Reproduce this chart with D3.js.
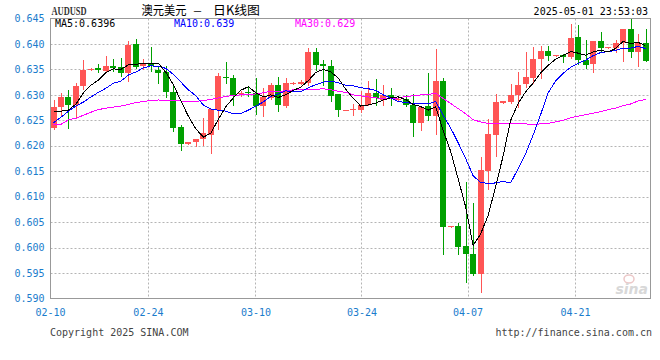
<!DOCTYPE html>
<html>
<head>
<meta charset="utf-8">
<script src="https://cdn.jsdelivr.net/npm/d3@7"></script>
<style>
    body { margin: 0; background: #fff; }
    svg { display: block; }
</style>
</head>
<body>
<svg id="kline" width="660" height="360"></svg>
<script>
// daily candles, 80 sessions
const openPrices = [
    0.6234, 0.6276, 0.6295, 0.6280, 0.6317, 0.6350, 0.6352, 0.6346, 0.6357, 0.6354,
    0.6342, 0.6400, 0.6356, 0.6362, 0.6349, 0.6345, 0.6306, 0.6236, 0.6203, 0.6207,
    0.6213, 0.6222, 0.6270, 0.6336, 0.6334, 0.6301, 0.6306, 0.6304, 0.6278, 0.6294,
    0.6320, 0.6278, 0.6323, 0.6322, 0.6323, 0.6385, 0.6361, 0.6357, 0.6302, 0.6270,
    0.6270, 0.6271, 0.6281, 0.6304, 0.6289, 0.6300, 0.6290, 0.6291, 0.6280, 0.6244,
    0.6278, 0.6259, 0.6328, 0.6041, 0.6043, 0.6004, 0.5988, 0.5948, 0.6151, 0.6221,
    0.6285, 0.6286, 0.6299, 0.6322, 0.6334, 0.6371, 0.6386, 0.6377, 0.6379, 0.6375,
    0.6414, 0.6369, 0.6361, 0.6406, 0.6393, 0.6393, 0.6401, 0.6429, 0.6385, 0.6402
];
const highPrices = [
    0.6289, 0.6304, 0.6310, 0.6323, 0.6369, 0.6352, 0.6361, 0.6377, 0.6370, 0.6372,
    0.6406, 0.6410, 0.6371, 0.6394, 0.6356, 0.6356, 0.6318, 0.6240, 0.6208, 0.6214,
    0.6255, 0.6273, 0.6343, 0.6365, 0.6339, 0.6307, 0.6315, 0.6333, 0.6314, 0.6324,
    0.6336, 0.6334, 0.6325, 0.6330, 0.6393, 0.6393, 0.6369, 0.6369, 0.6302, 0.6271,
    0.6282, 0.6307, 0.6328, 0.6332, 0.6320, 0.6313, 0.6295, 0.6300, 0.6302, 0.6277,
    0.6343, 0.6390, 0.6334, 0.6043, 0.6048, 0.6128, 0.6088, 0.6178, 0.6252, 0.6302,
    0.6287, 0.6322, 0.6345, 0.6385, 0.6394, 0.6396, 0.6396, 0.6379, 0.6381, 0.6440,
    0.6437, 0.6408, 0.6406, 0.6424, 0.6395, 0.6407, 0.6429, 0.6451, 0.6420, 0.6429
];
const lowPrices = [
    0.6232, 0.6259, 0.6235, 0.6254, 0.6312, 0.6349, 0.6345, 0.6345, 0.6346, 0.6337,
    0.6328, 0.6353, 0.6351, 0.6347, 0.6323, 0.6295, 0.6230, 0.6192, 0.6203, 0.6199,
    0.6201, 0.6186, 0.6232, 0.6323, 0.6281, 0.6298, 0.6297, 0.6263, 0.6258, 0.6291,
    0.6269, 0.6277, 0.6322, 0.6321, 0.6320, 0.6349, 0.6320, 0.6287, 0.6258, 0.6270,
    0.6261, 0.6267, 0.6280, 0.6281, 0.6280, 0.6281, 0.6288, 0.6279, 0.6219, 0.6231,
    0.6250, 0.6224, 0.5987, 0.6041, 0.5988, 0.5932, 0.5946, 0.5913, 0.6115, 0.6180,
    0.6285, 0.6285, 0.6276, 0.6315, 0.6323, 0.6333, 0.6369, 0.6377, 0.6365, 0.6372,
    0.6360, 0.6352, 0.6345, 0.6384, 0.6393, 0.6385, 0.6367, 0.6375, 0.6356, 0.6367
];
const closePrices = [
    0.6276, 0.6295, 0.6280, 0.6318, 0.6349, 0.6351, 0.6348, 0.6356, 0.6352, 0.6342,
    0.6398, 0.6354, 0.6362, 0.6356, 0.6342, 0.6305, 0.6234, 0.6203, 0.6208, 0.6214,
    0.6226, 0.6272, 0.6338, 0.6333, 0.6300, 0.6304, 0.6303, 0.6278, 0.6295, 0.6320,
    0.6281, 0.6324, 0.6324, 0.6326, 0.6385, 0.6359, 0.6356, 0.6297, 0.6270, 0.6271,
    0.6272, 0.6281, 0.6304, 0.6293, 0.6300, 0.6291, 0.6292, 0.6280, 0.6244, 0.6276,
    0.6259, 0.6328, 0.6041, 0.6043, 0.6002, 0.5988, 0.5948, 0.6153, 0.6224, 0.6286,
    0.6287, 0.6300, 0.6320, 0.6336, 0.6371, 0.6386, 0.6377, 0.6379, 0.6374, 0.6411,
    0.6369, 0.6359, 0.6406, 0.6393, 0.6395, 0.6402, 0.6429, 0.6385, 0.6402, 0.6367
];

// moving average lines as drawn on the chart
const ma5Values = [
    0.6268, 0.6268, 0.6270, 0.6282, 0.6304, 0.6319, 0.6329, 0.6344, 0.6351, 0.6350,
    0.6359, 0.6360, 0.6362, 0.6362, 0.6362, 0.6344, 0.6320, 0.6288, 0.6258, 0.6233,
    0.6217, 0.6225, 0.6252, 0.6277, 0.6294, 0.6309, 0.6316, 0.6304, 0.6296, 0.6300,
    0.6295, 0.6300, 0.6309, 0.6315, 0.6328, 0.6344, 0.6350, 0.6345, 0.6333, 0.6311,
    0.6293, 0.6278, 0.6280, 0.6284, 0.6290, 0.6294, 0.6296, 0.6291, 0.6281, 0.6277,
    0.6270, 0.6277, 0.6230, 0.6189, 0.6135, 0.6080, 0.6004, 0.6027, 0.6063, 0.6120,
    0.6180, 0.6250, 0.6283, 0.6306, 0.6323, 0.6343, 0.6358, 0.6370, 0.6377, 0.6385,
    0.6382, 0.6378, 0.6384, 0.6388, 0.6384, 0.6391, 0.6405, 0.6401, 0.6403, 0.6397
];
const ma10Values = [
    0.6245, 0.6256, 0.6268, 0.6278, 0.6286, 0.6296, 0.6305, 0.6313, 0.6323, 0.6327,
    0.6339, 0.6345, 0.6353, 0.6357, 0.6356, 0.6352, 0.6340, 0.6325, 0.6310, 0.6298,
    0.6280, 0.6272, 0.6270, 0.6268, 0.6263, 0.6263, 0.6270, 0.6278, 0.6286, 0.6297,
    0.6302, 0.6308, 0.6306, 0.6306, 0.6314, 0.6320, 0.6325, 0.6327, 0.6324, 0.6319,
    0.6318, 0.6314, 0.6312, 0.6309, 0.6300, 0.6294, 0.6287, 0.6285, 0.6283, 0.6283,
    0.6282, 0.6287, 0.6260, 0.6235, 0.6206, 0.6175, 0.6141, 0.6128, 0.6126, 0.6127,
    0.6130, 0.6127, 0.6155, 0.6184, 0.6221, 0.6261, 0.6304, 0.6327, 0.6342, 0.6354,
    0.6362, 0.6368, 0.6377, 0.6383, 0.6385, 0.6387, 0.6392, 0.6392, 0.6395, 0.6391
];
const ma30Values = [
    0.6241, 0.6242, 0.6251, 0.6254, 0.6260, 0.6266, 0.6271, 0.6274, 0.6276, 0.6278,
    0.6281, 0.6285, 0.6287, 0.6289, 0.6290, 0.6289, 0.6289, 0.6288, 0.6287, 0.6287,
    0.6289, 0.6291, 0.6294, 0.6297, 0.6299, 0.6300, 0.6300, 0.6302, 0.6304, 0.6307,
    0.6307, 0.6308, 0.6310, 0.6310, 0.6311, 0.6311, 0.6312, 0.6310, 0.6307, 0.6305,
    0.6300, 0.6298, 0.6296, 0.6294, 0.6293, 0.6292, 0.6294, 0.6297, 0.6298, 0.6300,
    0.6301, 0.6303, 0.6293, 0.6283, 0.6273, 0.6263, 0.6251, 0.6247, 0.6244, 0.6243,
    0.6244, 0.6243, 0.6243, 0.6243, 0.6242, 0.6243, 0.6244, 0.6247, 0.6250, 0.6255,
    0.6258, 0.6261, 0.6264, 0.6267, 0.6271, 0.6274, 0.6279, 0.6282, 0.6288, 0.6291
];

// legend and axis texts
const maLabels = ['MA5:0.6396', 'MA10:0.639', 'MA30:0.629'];
const yTickValues = [0.645, 0.640, 0.635, 0.630, 0.625, 0.620, 0.615, 0.610, 0.605, 0.600, 0.595, 0.590];
const xTickLabels = ['02-10', '02-24', '03-10', '03-24', '04-07', '04-21'];
const xTickAt = [-0.47, 12.6, 26.95, 41.1, 55.25, 69.6]; // in candle index units

const svg = d3.select('#kline');
const font = '"DejaVu Sans Mono", monospace';
const cjkFont = '"Noto Sans CJK SC", sans-serif';
const axisBlue = '#1a7ccc';
const upColor = '#ff5555';
const downColor = '#00a000';

// plot box
const box = {left: 50.5, top: 18.5, right: 650.5, bottom: 298.5};

const n = closePrices.length;
const x = d3.scaleLinear().domain([0, n - 1]).range([53.5, 645.5]);
const y = d3.scaleLinear().domain([0.590, 0.645]).range([box.bottom, box.top]);

svg.append('defs').append('clipPath').attr('id', 'plot-clip')
    .append('rect')
    .attr('x', box.left).attr('y', box.top)
    .attr('width', box.right - box.left).attr('height', box.bottom - box.top);

// dotted grid
const grid = svg.append('g').attr('stroke', '#b4b4b4').attr('stroke-dasharray', '2,2');
grid.selectAll('.hgrid')
    .data(yTickValues.slice(1, -1))
    .join('line')
    .attr('x1', box.left).attr('x2', box.right)
    .attr('y1', d => Math.round(y(d)) + 0.5)
    .attr('y2', d => Math.round(y(d)) + 0.5);
grid.selectAll('.vgrid')
    .data(xTickAt.slice(1))
    .join('line')
    .attr('x1', d => Math.round(x(d)) + 0.5)
    .attr('x2', d => Math.round(x(d)) + 0.5)
    .attr('y1', box.top).attr('y2', box.bottom);

// candles
const plot = svg.append('g').attr('clip-path', 'url(#plot-clip)');
const candles = d3.range(n).map(i => ({
    i, o: openPrices[i], h: highPrices[i], l: lowPrices[i], c: closePrices[i]
}));
const col = d => d.c >= d.o ? upColor : downColor;

plot.selectAll('.wick')
    .data(candles)
    .join('line')
    .attr('class', 'wick')
    .attr('x1', d => Math.round(x(d.i)) + 0.5)
    .attr('x2', d => Math.round(x(d.i)) + 0.5)
    .attr('y1', d => Math.round(y(d.h)))
    .attr('y2', d => Math.round(y(d.l)) + 1)
    .attr('stroke', col);

plot.selectAll('.body')
    .data(candles)
    .join('rect')
    .attr('class', 'body')
    .attr('x', d => Math.round(x(d.i)) - 3)
    .attr('width', 6)
    .attr('y', d => Math.round(y(Math.max(d.o, d.c))))
    .attr('height', d => Math.max(1, Math.round(y(Math.min(d.o, d.c))) - Math.round(y(Math.max(d.o, d.c)))))
    .attr('fill', col);

// moving averages, drawn aliased like the original
const maLine = d3.line().x((d, i) => x(i)).y(d => y(d));
[[ma30Values, '#ff00ff'], [ma10Values, '#0000ff'], [ma5Values, '#000000']].forEach(([vals, c]) => {
    plot.append('path')
        .attr('d', maLine(vals))
        .attr('fill', 'none')
        .attr('stroke', c)
        .attr('stroke-width', 1)
        .attr('shape-rendering', 'crispEdges');
});

// frame
svg.append('rect')
    .attr('x', box.left).attr('y', box.top)
    .attr('width', box.right - box.left).attr('height', box.bottom - box.top)
    .attr('fill', 'none').attr('stroke', '#999');

// axes
const yAxis = svg.append('g')
    .attr('transform', `translate(${box.left},0)`)
    .call(d3.axisLeft(y).tickValues(yTickValues).tickFormat(d3.format('.3f')).tickSize(0).tickPadding(6));
const xAxis = svg.append('g')
    .attr('transform', `translate(0,${box.bottom})`)
    .call(d3.axisBottom(x).tickValues(xTickAt).tickFormat((d, i) => xTickLabels[i]).tickSize(0).tickPadding(10));
[yAxis, xAxis].forEach(a => {
    a.select('.domain').remove();
    a.selectAll('text').attr('fill', axisBlue).style('font-family', font).style('font-size', '10px');
});

// legend inside the plot
const maColors = ['#000000', '#0000ff', '#ff00ff'];
const maX = [55, 174, 295];
svg.selectAll('.ma-label')
    .data(maLabels)
    .join('text')
    .attr('x', (d, i) => maX[i])
    .attr('y', 27)
    .attr('fill', (d, i) => maColors[i])
    .style('font-family', font)
    .style('font-size', '10px')
    .text(d => d);

// header
svg.append('text')
    .attr('x', 51.5).attr('y', 15)
    .attr('textLength', 35).attr('lengthAdjust', 'spacingAndGlyphs')
    .attr('fill', '#333')
    .style('font-family', '"Liberation Serif", serif')
    .style('font-weight', 'bold')
    .style('font-size', '12px')
    .text('AUDUSD');

// title in three pieces so the dash keeps its wide gaps
const title = svg.append('g').attr('fill', '#000')
    .style('font-family', cjkFont).style('font-size', '12.5px');
title.append('text').attr('x', 141.5).attr('y', 14.5)
    .attr('textLength', 45).attr('lengthAdjust', 'spacingAndGlyphs').text('澳元美元');
title.append('text').attr('x', 197.5).attr('y', 14.5).attr('text-anchor', 'middle')
    .style('font-size', '10px').text('－');
title.append('text').attr('x', 213).attr('y', 14.5)
    .attr('textLength', 47).attr('lengthAdjust', 'spacingAndGlyphs').text('日K线图');

svg.append('text')
    .attr('x', 648).attr('y', 15)
    .attr('text-anchor', 'end')
    .attr('fill', '#000')
    .style('font-family', font)
    .style('font-size', '10px')
    .text('2025-05-01 23:53:03');

// footer
svg.append('text')
    .attr('x', 50).attr('y', 335.5)
    .attr('fill', '#444')
    .style('font-family', font)
    .style('font-size', '10px')
    .text('Copyright 2025 SINA.COM');

svg.append('text')
    .attr('x', 652).attr('y', 335.5)
    .attr('text-anchor', 'end')
    .attr('fill', '#444')
    .style('font-family', font)
    .style('font-size', '10px')
    .text('http://finance.sina.com.cn');

// faint sina watermark
svg.append('ellipse')
    .attr('cx', 629).attr('cy', 279).attr('rx', 5).attr('ry', 4)
    .attr('fill', 'none').attr('stroke', '#ecc8c8').attr('stroke-width', 1.5);
svg.append('text')
    .attr('x', 648).attr('y', 294)
    .attr('text-anchor', 'end')
    .attr('fill', '#d8d8d8')
    .style('font-family', '"DejaVu Sans", sans-serif')
    .style('font-style', 'italic')
    .style('font-weight', 'bold')
    .style('font-size', '14px')
    .text('sina');
</script>
</body>
</html>
